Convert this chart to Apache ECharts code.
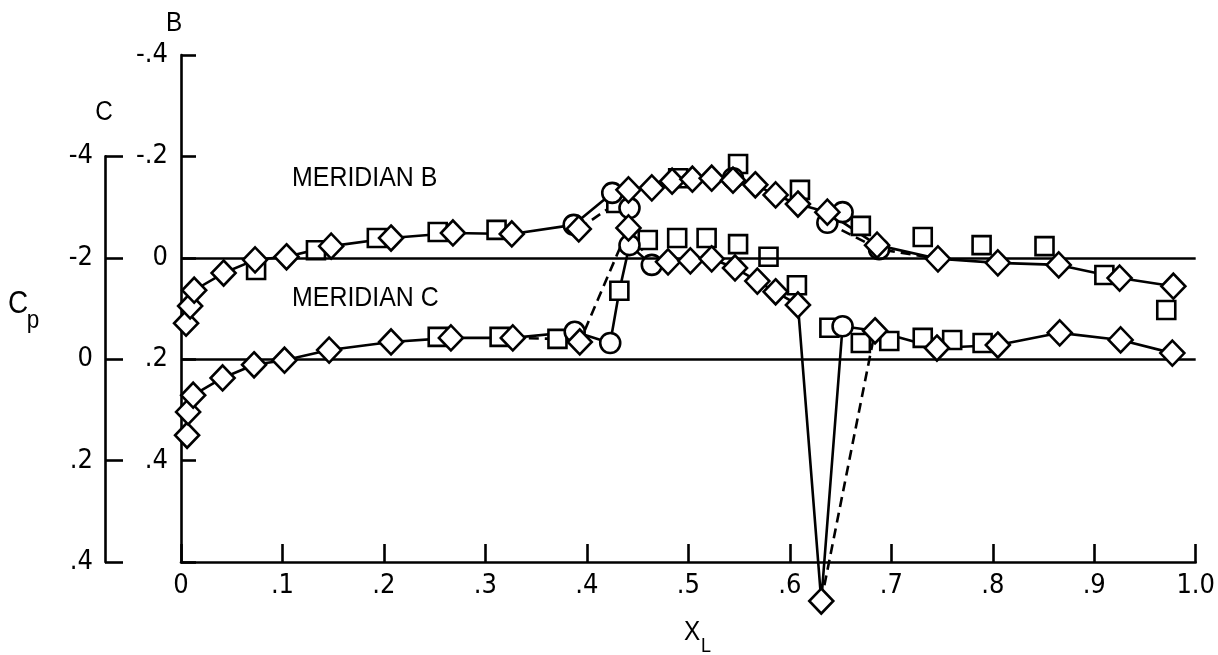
<!DOCTYPE html>
<html>
<head>
<meta charset="utf-8">
<script src="https://cdn.jsdelivr.net/npm/echarts@6/dist/echarts.min.js"></script>
<style>
  html, body { margin: 0; padding: 0; background: #fff; }
  #chart { width: 1218px; height: 655px; }
</style>
</head>
<body>
<div id="chart"></div>
<script>
// ---------- tick labels ----------
const X_TICKS = ['0', '.1', '.2', '.3', '.4', '.5', '.6', '.7', '.8', '.9', '1.0'];
const B_TICKS = ['-.4', '-.2', '0', '.2', '.4'];   // meridian B scale, -0.4 .. 0.4
const C_TICKS = ['-4', '-2', '0', '.2', '.4'];     // meridian C scale, -0.4 .. 0.4

// ---------- meridian B : measured points ----------
const B_DIAMOND_X  = [0.005, 0.009, 0.013, 0.042, 0.073, 0.104, 0.148, 0.207, 0.268, 0.326, 0.392,
                      0.441, 0.464, 0.484, 0.504, 0.523, 0.544, 0.566, 0.586, 0.608, 0.637, 0.686,
                      0.746, 0.805, 0.865, 0.925, 0.978];
const B_DIAMOND_CP = [0.129, 0.095, 0.064, 0.030, 0.004, -0.002, -0.023, -0.039, -0.049, -0.047, -0.057,
                      -0.134, -0.138, -0.151, -0.155, -0.157, -0.153, -0.144, -0.124, -0.106, -0.090, -0.025,
                      0.002, 0.010, 0.014, 0.040, 0.056];
const B_CIRCLE_X   = [0.387, 0.425, 0.442, 0.544, 0.637, 0.652, 0.688];
const B_CIRCLE_CP  = [-0.065, -0.128, -0.098, -0.157, -0.069, -0.090, -0.017];
const B_SQUARE_X   = [0.074, 0.133, 0.193, 0.253, 0.311, 0.429, 0.490, 0.549, 0.610, 0.670, 0.731,
                      0.789, 0.851, 0.910, 0.971];
const B_SQUARE_CP  = [0.024, -0.015, -0.039, -0.051, -0.055, -0.108, -0.157, -0.185, -0.134, -0.063, -0.041,
                      -0.025, -0.023, 0.034, 0.103];

// ---------- meridian B : faired curves ----------
const B_SOLID = [[0.005, 0.129], [0.009, 0.095], [0.013, 0.064], [0.042, 0.030], [0.073, 0.004],
                 [0.104, -0.002], [0.148, -0.023], [0.207, -0.039], [0.268, -0.049], [0.326, -0.047],
                 [0.387, -0.065], [0.425, -0.128], [0.441, -0.134], [0.464, -0.138], [0.484, -0.151],
                 [0.504, -0.155], [0.523, -0.157], [0.544, -0.153], [0.566, -0.144], [0.586, -0.124],
                 [0.608, -0.106], [0.637, -0.090], [0.686, -0.025], [0.746, 0.002], [0.805, 0.010],
                 [0.865, 0.014], [0.925, 0.040], [0.978, 0.056]];
const B_DASH_FORE = [[0.392, -0.057], [0.429, -0.108], [0.441, -0.134]];
const B_DASH_AFT  = [[0.637, -0.069], [0.688, -0.017], [0.746, 0.002]];

// ---------- meridian C : measured points ----------
const C_DIAMOND_X  = [0.006, 0.007, 0.012, 0.041, 0.072, 0.102, 0.146, 0.207, 0.266, 0.327, 0.393,
                      0.441, 0.480, 0.502, 0.523, 0.546, 0.568, 0.586, 0.608, 0.631, 0.684,
                      0.745, 0.805, 0.866, 0.926, 0.977];
const C_DIAMOND_CP = [0.150, 0.104, 0.071, 0.037, 0.011, 0.002, -0.018, -0.034, -0.042, -0.042, -0.034,
                      -0.259, -0.192, -0.194, -0.198, -0.180, -0.154, -0.133, -0.107, 0.477, -0.056,
                      -0.022, -0.028, -0.052, -0.038, -0.012];
const C_CIRCLE_X   = [0.388, 0.423, 0.442, 0.464, 0.652];
const C_CIRCLE_CP  = [-0.054, -0.032, -0.225, -0.186, -0.065];
const C_SQUARE_X   = [0.253, 0.314, 0.371, 0.432, 0.460, 0.489, 0.518, 0.549, 0.579, 0.607, 0.639,
                      0.670, 0.698, 0.731, 0.760, 0.790];
const C_SQUARE_CP  = [-0.044, -0.044, -0.040, -0.135, -0.235, -0.239, -0.239, -0.227, -0.202, -0.146, -0.062,
                      -0.032, -0.036, -0.042, -0.038, -0.032];

// ---------- meridian C : faired curves ----------
const C_SOLID = [[0.006, 0.150], [0.007, 0.104], [0.012, 0.071], [0.041, 0.037], [0.072, 0.011],
                 [0.102, 0.002], [0.146, -0.018], [0.207, -0.034], [0.266, -0.042], [0.327, -0.042],
                 [0.388, -0.054], [0.423, -0.032], [0.432, -0.135], [0.442, -0.225], [0.464, -0.186],
                 [0.480, -0.192], [0.502, -0.194], [0.523, -0.198], [0.546, -0.180], [0.568, -0.154],
                 [0.586, -0.133], [0.608, -0.107], [0.631, 0.477], [0.652, -0.065], [0.684, -0.056],
                 [0.745, -0.022], [0.805, -0.028], [0.866, -0.052], [0.926, -0.038], [0.977, -0.012]];
const C_DASH_FORE = [[0.327, -0.042], [0.371, -0.040], [0.393, -0.034], [0.441, -0.259], [0.464, -0.186]];
const C_DASH_AFT  = [[0.631, 0.477], [0.684, -0.056]];

// ---------- helpers ----------
const INK = '#000';
const AXIS_FONT = "'DejaVu Sans Condensed', 'Liberation Sans Narrow', 'Liberation Sans', sans-serif";
const TEXT_FONT = "'Liberation Sans', 'DejaVu Sans', sans-serif";
const LINE_W = 2.6;
const zip = (xs, ys) => xs.map((x, i) => [x, ys[i]]);

function markers(name, xs, ys, yAxisIndex, symbol, size, z) {
  return {
    name, type: 'scatter', xAxisIndex: 0, yAxisIndex,
    data: zip(xs, ys), symbol, symbolSize: size, clip: false, z, silent: true,
    itemStyle: { color: '#fff', borderColor: INK, borderWidth: 2.6, opacity: 1 },
    emphasis: { disabled: true }
  };
}
function fairing(name, pts, yAxisIndex, dashed, extra) {
  return Object.assign({
    name, type: 'line', xAxisIndex: 0, yAxisIndex, data: pts,
    symbol: 'none', clip: false, z: 2, silent: true,
    lineStyle: { color: INK, width: LINE_W, type: dashed ? [10, 6] : 'solid' },
    emphasis: { disabled: true }
  }, extra || {});
}
const zeroLine = {
  silent: true, symbol: 'none', label: { show: false },
  lineStyle: { color: INK, width: LINE_W, type: 'solid' },
  emphasis: { disabled: true },
  data: [{ yAxis: 0 }]
};
// plain text, centred on (x, y); sx narrows the lettering
function txt(text, x, y, size, sx, align) {
  return {
    type: 'text', x, y, scaleX: sx || 1, silent: true,
    style: {
      text, font: size + 'px ' + TEXT_FONT, fill: INK,
      textAlign: align || 'center', textVerticalAlign: 'middle'
    }
  };
}

const chart = echarts.init(document.getElementById('chart'), null, { renderer: 'canvas' });

chart.setOption({
  backgroundColor: '#fff',
  animation: false,
  grid: [
    { left: 181, right: 15, top: 55, bottom: 93 },          // plotting area, B scale
    { left: 105, width: 10, top: 156.4, bottom: 93 }        // carrier of the C scale
  ],
  xAxis: [
    {
      gridIndex: 0, type: 'value', min: 0, max: 1, interval: 0.1,
      axisLine: { show: true, onZero: false, lineStyle: { color: INK, width: LINE_W } },
      axisTick: { show: true, inside: true, length: 18, lineStyle: { color: INK, width: LINE_W } },
      axisLabel: {
        color: INK, fontSize: 27, fontFamily: AXIS_FONT, margin: 10,
        formatter: v => X_TICKS[Math.round(v * 10)]
      },
      splitLine: { show: false }
    },
    { gridIndex: 1, type: 'value', min: 0, max: 1, show: false }
  ],
  yAxis: [
    {
      gridIndex: 0, type: 'value', inverse: true, min: -0.4, max: 0.6, interval: 0.2,
      axisLine: { show: true, onZero: false, lineStyle: { color: INK, width: LINE_W } },
      axisTick: { show: true, inside: true, length: 15, lineStyle: { color: INK, width: LINE_W } },
      axisLabel: {
        color: INK, fontSize: 27, fontFamily: AXIS_FONT, margin: 13,
        formatter: v => B_TICKS[Math.round((v + 0.4) / 0.2)] || ''
      },
      splitLine: { show: false }
    },
    {   // meridian C values share the plotting area, offset by 0.2
      gridIndex: 0, type: 'value', inverse: true, min: -0.6, max: 0.4, show: false
    },
    {
      gridIndex: 1, type: 'value', inverse: true, min: -0.4, max: 0.4, interval: 0.2,
      axisLine: { show: true, onZero: false, lineStyle: { color: INK, width: LINE_W } },
      axisTick: { show: true, inside: true, length: 18, lineStyle: { color: INK, width: LINE_W } },
      axisLabel: {
        color: INK, fontSize: 27, fontFamily: AXIS_FONT, margin: 12,
        formatter: v => C_TICKS[Math.round((v + 0.4) / 0.2)] || ''
      },
      splitLine: { show: false }
    }
  ],
  series: [
    fairing('B faired', B_SOLID, 0, false, { markLine: zeroLine }),
    fairing('B faired fore', B_DASH_FORE, 0, true),
    fairing('B faired aft', B_DASH_AFT, 0, true),
    fairing('C faired', C_SOLID, 1, false, { markLine: zeroLine }),
    fairing('C faired fore', C_DASH_FORE, 1, true),
    fairing('C faired aft', C_DASH_AFT, 1, true),

    markers('B square', B_SQUARE_X, B_SQUARE_CP, 0, 'rect', 18, 3),
    markers('C square', C_SQUARE_X, C_SQUARE_CP, 1, 'rect', 18, 3),
    markers('B circle', B_CIRCLE_X, B_CIRCLE_CP, 0, 'circle', 20, 4),
    markers('C circle', C_CIRCLE_X, C_CIRCLE_CP, 1, 'circle', 20, 4),
    markers('B diamond', B_DIAMOND_X, B_DIAMOND_CP, 0, 'diamond', [24, 25], 5),
    markers('C diamond', C_DIAMOND_X, C_DIAMOND_CP, 1, 'diamond', [24, 25], 5)
  ],
  graphic: [
    txt('B', 174, 24, 27, 0.9),
    txt('C', 104, 113, 27, 0.9),
    txt('C', 18, 304, 31, 0.9),
    txt('p', 33, 321, 25, 0.9),
    txt('X', 692, 633, 27, 0.9),
    txt('L', 706, 646, 20, 0.9),
    txt('MERIDIAN B', 292, 178, 28, 0.89, 'left'),
    txt('MERIDIAN C', 292, 298, 28, 0.89, 'left')
  ]
});
</script>
</body>
</html>
